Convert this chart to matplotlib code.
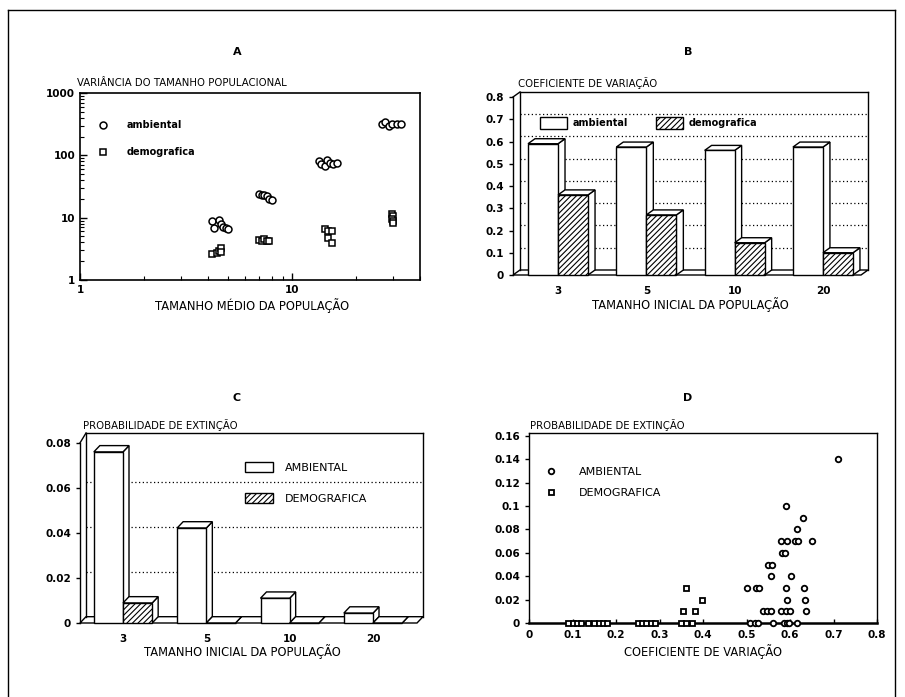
import numpy as np
import matplotlib.pyplot as plt
from matplotlib.patches import Polygon, Rectangle, Patch
from matplotlib.lines import Line2D
from matplotlib.ticker import FuncFormatter, NullFormatter

plt.rcParams['font.family'] = ['DejaVu Sans']
plt.rcParams['hatch.linewidth'] = 0.8

W, H = 905, 697

# ---- A: variancia x tamanho medio (log-log) ----
a_amb_x = [4.2, 4.3, 4.5, 4.6, 4.7, 4.9, 5.0,
           7.0, 7.2, 7.4, 7.6, 7.8, 8.0,
           13.3, 13.7, 14.2, 14.6, 15.0, 15.5, 16.2,
           26.5, 27.5, 28.5, 29.5, 31.0, 32.5]
a_amb_y = [9.0, 6.8, 9.2, 7.9, 7.2, 6.8, 6.6,
           24, 23.5, 23, 22, 20, 19,
           80, 72, 67, 85, 76, 72, 74,
           315, 345, 300, 320, 320, 315]
a_dem_x = [4.2, 4.4, 4.5, 4.6, 4.6,
           7.0, 7.2, 7.4, 7.6, 7.8,
           14.3, 14.8, 15.4, 14.7, 15.4,
           29.6, 29.8, 29.6, 29.9, 29.7]
a_dem_y = [2.6, 2.7, 2.9, 3.3, 2.8,
           4.4, 4.2, 4.5, 4.3, 4.2,
           6.5, 6.2, 6.0, 4.8, 3.9,
           11.5, 10.5, 9.5, 8.8, 8.2]

# ---- B: coeficiente de variacao ----
b_cats = ['3', '5', '10', '20']
b_amb = [0.59, 0.575, 0.56, 0.575]
b_dem = [0.36, 0.27, 0.145, 0.10]

# ---- C: probabilidade de extincao ----
c_cats = ['3', '5', '10', '20']
c_amb = [0.076, 0.0422, 0.011, 0.0044]
c_dem = [0.0089, 0.0, 0.0, 0.0]

# ---- D: prob. extincao x coef. variacao ----
d_amb_cv = [0.71, 0.59, 0.63, 0.615, 0.58, 0.592, 0.611, 0.619, 0.65,
            0.581, 0.588, 0.549, 0.558, 0.556, 0.602,
            0.502, 0.522, 0.529, 0.591, 0.632, 0.594, 0.634,
            0.537, 0.546, 0.556, 0.579, 0.591, 0.600, 0.636,
            0.508, 0.52, 0.527, 0.562, 0.586, 0.592, 0.598, 0.615]
d_amb_pe = [0.14, 0.10, 0.09, 0.08, 0.07, 0.07, 0.07, 0.07, 0.07,
            0.06, 0.06, 0.05, 0.05, 0.04, 0.04,
            0.03, 0.03, 0.03, 0.03, 0.03, 0.02, 0.02,
            0.01, 0.01, 0.01, 0.01, 0.01, 0.01, 0.01,
            0, 0, 0, 0, 0, 0, 0, 0]
d_dem_cv = [0.36, 0.397, 0.355, 0.382,
            0.09, 0.10, 0.11, 0.12, 0.135, 0.15, 0.16, 0.17, 0.18,
            0.25, 0.26, 0.27, 0.28, 0.29, 0.35, 0.36, 0.375]
d_dem_pe = [0.03, 0.02, 0.01, 0.01] + [0] * 17


def add_ax(fig, l, r, t, b):
    return fig.add_axes([l / W, 1 - b / H, (r - l) / W, (b - t) / H])


def ftext(fig, x, y, s, **kw):
    fig.text(x / W, 1 - y / H, s, **kw)


def bar3d(ax, x0, w, h, dx, dy, z, hatch=None):
    k = dict(fc='white', ec='black', lw=1, clip_on=False, zorder=z)
    ax.add_patch(Polygon([(x0 + w, 0), (x0 + w + dx, dy), (x0 + w + dx, h + dy), (x0 + w, h)], **k))
    ax.add_patch(Polygon([(x0, h), (x0 + w, h), (x0 + w + dx, h + dy), (x0 + dx, h + dy)], **k))
    ax.add_patch(Rectangle((x0, 0), w, h, hatch=hatch, **k))


def box3d(ax, xl, xr, yfront, ytop, dx, dy, grid):
    k = dict(color='black', lw=1, clip_on=False, zorder=3)
    ax.add_patch(Polygon([(xl, 0), (xr - dx, 0), (xr, dy), (xl + dx, dy)],
                         fc='white', ec='black', lw=1, clip_on=False, zorder=2))
    ax.plot([xl, xl], [0, yfront], **k)
    ax.plot([xl, xl + dx], [yfront, ytop], **k)
    ax.plot([xl + dx, xl + dx], [dy, ytop], **k)
    ax.plot([xl + dx, xr], [ytop, ytop], **k)
    ax.plot([xr, xr], [ytop, dy], **k)
    for g in grid:
        ax.plot([xl + dx, xr], [g + dy, g + dy], color='black', lw=0.9,
                ls=(0, (1, 2)), zorder=1)


def bar_panel(ax, cats, amb, dem, xl, xr, yfront, ytop, w, dx, dy, grid):
    ax.set_xlim(xl, xr)
    ax.set_ylim(0, ytop)
    for s in ax.spines.values():
        s.set_visible(False)
    box3d(ax, xl, xr, yfront, ytop, dx, dy, grid)
    z = 4
    for i in range(len(cats)):
        bar3d(ax, i - w, w, amb[i], dx, dy, z)
        bar3d(ax, i, w, dem[i], dx, dy, z + 1, hatch='//////')
        z += 2
    ax.set_xticks(range(len(cats)))
    ax.set_xticklabels(cats)
    ax.tick_params(axis='x', length=0, pad=8, labelsize=7.5)
    ax.tick_params(axis='y', direction='out', length=3, width=1, labelsize=7.5)
    for lab in ax.get_xticklabels() + ax.get_yticklabels():
        lab.set_fontweight('bold')
    ax.yaxis.set_major_formatter(FuncFormatter(lambda v, p: '%g' % v))


fig = plt.figure(figsize=(W / 100, H / 100), dpi=100)

# moldura da pagina
for xs, ys in [([8, 8], [10, 697]), ([8, 895], [10, 10]), ([895, 895], [10, 697])]:
    fig.add_artist(Line2D([x / W for x in xs], [1 - y / H for y in ys], color='black', lw=1))

# ---------- A ----------
axA = add_ax(fig, 80, 420, 93, 280)
axA.set_xscale('log')
axA.set_yscale('log')
axA.set_xlim(1, 40)
axA.set_ylim(1, 1000)
axA.plot(a_amb_x, a_amb_y, 'o', ms=5, mfc='white', mec='black', mew=1.1, label='ambiental')
axA.plot(a_dem_x, a_dem_y, 's', ms=4.5, mfc='white', mec='black', mew=1.1, label='demografica')
axA.set_xticks([1, 10])
axA.set_yticks([1, 10, 100, 1000])
fmt = FuncFormatter(lambda v, p: '%g' % v)
axA.xaxis.set_major_formatter(fmt)
axA.yaxis.set_major_formatter(fmt)
axA.xaxis.set_minor_formatter(NullFormatter())
axA.tick_params(which='major', direction='in', length=5, width=1, labelsize=7.5)
axA.tick_params(which='minor', direction='in', length=3, width=0.8)
for lab in axA.get_xticklabels() + axA.get_yticklabels():
    lab.set_fontweight('bold')
for s in axA.spines.values():
    s.set_linewidth(1.2)
axA.legend(loc='upper left', bbox_to_anchor=(0.038, 0.882), frameon=False, borderpad=0,
           handlelength=1.0, handletextpad=2.0, labelspacing=1.8,
           prop=dict(size=7, weight='bold'))

ftext(fig, 237, 52, 'A', ha='center', va='center', fontsize=8, fontweight='bold')
ftext(fig, 77, 83, 'VARIÂNCIA DO TAMANHO POPULACIONAL', ha='left', va='center', fontsize=7.3)
ftext(fig, 252, 306, 'TAMANHO MÉDIO DA POPULAÇÃO', ha='center', va='center', fontsize=8.3)

# ---------- B ----------
axB = add_ax(fig, 513, 868, 92, 275)
bar_panel(axB, b_cats, b_amb, b_dem, -0.51, 3.51, 0.8, 0.8225, 0.34, 0.079, 0.0225,
          [0.1, 0.2, 0.3, 0.4, 0.5, 0.6, 0.7])
axB.set_yticks(np.arange(0, 0.81, 0.1))
axB.legend([Patch(fc='white', ec='black', lw=1), Patch(fc='white', ec='black', lw=1, hatch='//////')],
           ['ambiental', 'demografica'], ncol=2, loc='upper left', bbox_to_anchor=(0.062, 0.892),
           frameon=False, borderpad=0, handlelength=2.8, handleheight=1.6, handletextpad=0.6,
           columnspacing=2.8, prop=dict(size=7, weight='bold'))

ftext(fig, 688, 52, 'B', ha='center', va='center', fontsize=8, fontweight='bold')
ftext(fig, 518, 83, 'COEFICIENTE DE VARIAÇÃO', ha='left', va='center', fontsize=7.3)
ftext(fig, 690, 305, 'TAMANHO INICIAL DA POPULAÇÃO', ha='center', va='center', fontsize=8.3)

# ---------- C ----------
axC = add_ax(fig, 80, 423, 433, 623)
bar_panel(axC, c_cats, c_amb, c_dem, -0.516, 3.6, 0.08, 0.0844, 0.35, 0.072, 0.0028,
          [0.02, 0.04, 0.06])
axC.set_yticks([0, 0.02, 0.04, 0.06, 0.08])
axC.legend([Patch(fc='white', ec='black', lw=1), Patch(fc='white', ec='black', lw=1, hatch='//////')],
           ['AMBIENTAL', 'DEMOGRAFICA'], loc='upper left', bbox_to_anchor=(0.466, 0.876),
           frameon=False, borderpad=0, handlelength=2.45, handleheight=1.0, handletextpad=1.1,
           labelspacing=1.8, prop=dict(size=8))

ftext(fig, 237, 398, 'C', ha='center', va='center', fontsize=8, fontweight='bold')
ftext(fig, 83, 425, 'PROBABILIDADE DE EXTINÇÃO', ha='left', va='center', fontsize=7.3)
ftext(fig, 242, 652, 'TAMANHO INICIAL DA POPULAÇÃO', ha='center', va='center', fontsize=8.3)

# ---------- D ----------
axD = add_ax(fig, 529, 877, 433, 623)
axD.set_xlim(0, 0.8)
axD.set_ylim(0, 0.1624)
axD.plot(d_amb_cv, d_amb_pe, 'o', ms=4, mfc='white', mec='black', mew=1.3,
         clip_on=False, zorder=4, label='AMBIENTAL')
axD.plot(d_dem_cv, d_dem_pe, 's', ms=3.6, mfc='white', mec='black', mew=1.3,
         clip_on=False, zorder=4, label='DEMOGRAFICA')
axD.set_xticks(np.arange(0, 0.81, 0.1))
axD.set_yticks(np.arange(0, 0.161, 0.02))
axD.xaxis.set_major_formatter(fmt)
axD.yaxis.set_major_formatter(fmt)
axD.tick_params(axis='x', direction='in', length=3, width=1, labelsize=7.5, pad=5)
axD.tick_params(axis='y', direction='out', length=3, width=1, labelsize=7.5)
for lab in axD.get_xticklabels() + axD.get_yticklabels():
    lab.set_fontweight('bold')
for s in axD.spines.values():
    s.set_linewidth(1)
axD.spines['bottom'].set_linewidth(1.8)
axD.legend(loc='upper left', bbox_to_anchor=(0.032, 0.85), frameon=False, borderpad=0,
           handlelength=1.0, handletextpad=2.0, labelspacing=1.0, prop=dict(size=8))

ftext(fig, 688, 398, 'D', ha='center', va='center', fontsize=8, fontweight='bold')
ftext(fig, 530, 425, 'PROBABILIDADE DE EXTINÇÃO', ha='left', va='center', fontsize=7.3)
ftext(fig, 703, 652, 'COEFICIENTE DE VARIAÇÃO', ha='center', va='center', fontsize=8.3)

fig.savefig('out.png', dpi=100)
